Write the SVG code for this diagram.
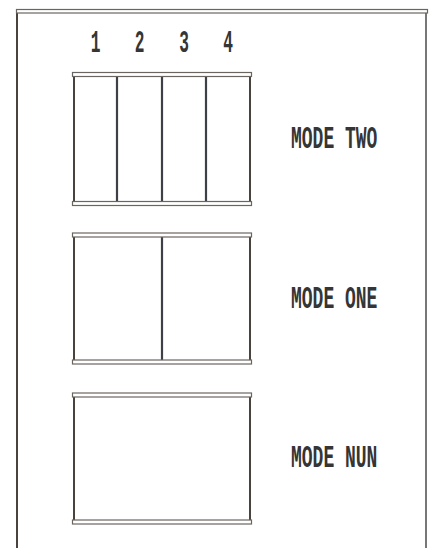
<svg xmlns="http://www.w3.org/2000/svg" width="434" height="548" viewBox="0 0 434 548">
<defs>
<style>
.bar{fill:#fff;stroke:#6a6560;stroke-width:1.2}
.side{stroke:#4a423c;stroke-width:2;fill:none}
.div{stroke:#3e4048;stroke-width:2.2;fill:none}
.lbl{font-family:"Liberation Mono","Courier New",monospace;font-size:18px;font-weight:bold;fill:#353535}
.num{text-anchor:middle}
</style>
</defs>
<rect width="434" height="548" fill="#fff"/>
<g id="frame">
<line class="side" x1="17" y1="9" x2="17" y2="548"/>
<line class="side" x1="426" y1="12" x2="426" y2="548" style="stroke:#777"/>
<rect class="bar" x="16.5" y="9.5" width="411" height="3.5"/>
</g>
<g id="mode-two">
<line class="side" x1="74" y1="76" x2="74" y2="202"/>
<line class="side" x1="250" y1="76" x2="250" y2="202"/>
<line class="div" x1="117" y1="76" x2="117" y2="202"/>
<line class="div" x1="162" y1="76" x2="162" y2="202"/>
<line class="div" x1="206" y1="76" x2="206" y2="202"/>
<rect class="bar" x="72.5" y="72.5" width="179" height="4"/>
<rect class="bar" x="72.5" y="201.5" width="179" height="4"/>
<text class="lbl num" transform="translate(95.5,52) scale(0.9,1.75)">1</text>
<text class="lbl num" transform="translate(139.5,52) scale(0.9,1.75)">2</text>
<text class="lbl num" transform="translate(184,52) scale(0.9,1.75)">3</text>
<text class="lbl num" transform="translate(228,52) scale(0.9,1.75)">4</text>
<text class="lbl" transform="translate(291,148) scale(1,1.75)">MODE TWO</text>
</g>
<g id="mode-one">
<line class="side" x1="74" y1="236" x2="74" y2="361"/>
<line class="side" x1="250" y1="236" x2="250" y2="361"/>
<line class="div" x1="162" y1="236" x2="162" y2="361"/>
<rect class="bar" x="72.5" y="233" width="179" height="4"/>
<rect class="bar" x="72.5" y="360" width="179" height="4"/>
<text class="lbl" transform="translate(291,308) scale(1,1.75)">MODE ONE</text>
</g>
<g id="mode-nun">
<line class="side" x1="74" y1="396" x2="74" y2="521"/>
<line class="side" x1="250" y1="396" x2="250" y2="521"/>
<rect class="bar" x="72.5" y="393" width="179" height="4"/>
<rect class="bar" x="72.5" y="520" width="179" height="4"/>
<text class="lbl" transform="translate(291,467) scale(1,1.75)">MODE NUN</text>
</g>
<g id="connectors"/>
</svg>
